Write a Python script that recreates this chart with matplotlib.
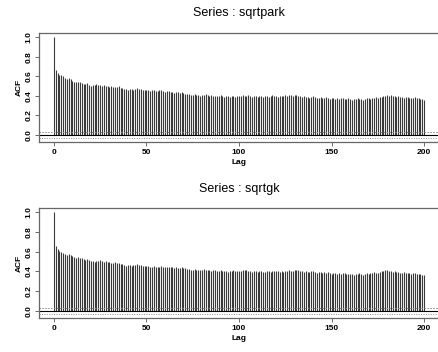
import numpy as np
import matplotlib
matplotlib.use("Agg")
import matplotlib.pyplot as plt

plt.rcParams['font.family'] = ['Liberation Sans', 'DejaVu Sans']

lags = list(range(0, 201))

# ACF values, lag 0..200
acf_sqrtpark = [
    1.00,
    0.66, 0.63, 0.61, 0.61, 0.60, 0.58, 0.57, 0.58, 0.57, 0.55,
    0.54, 0.54, 0.54, 0.54, 0.53, 0.52, 0.52, 0.53, 0.51, 0.50,
    0.51, 0.51, 0.52, 0.51, 0.51, 0.50, 0.51, 0.50, 0.50, 0.49,
    0.50, 0.49, 0.49, 0.49, 0.50, 0.48, 0.48, 0.47, 0.47, 0.46,
    0.47, 0.47, 0.46, 0.47, 0.48, 0.47, 0.47, 0.46, 0.46, 0.46,
    0.46, 0.45, 0.46, 0.46, 0.45, 0.45, 0.46, 0.46, 0.45, 0.44,
    0.45, 0.45, 0.44, 0.44, 0.43, 0.44, 0.44, 0.43, 0.44, 0.43,
    0.42, 0.42, 0.42, 0.41, 0.41, 0.42, 0.41, 0.41, 0.40, 0.41,
    0.41, 0.42, 0.41, 0.40, 0.41, 0.40, 0.40, 0.40, 0.40, 0.41,
    0.40, 0.39, 0.40, 0.40, 0.39, 0.40, 0.40, 0.39, 0.40, 0.40,
    0.40, 0.41, 0.40, 0.40, 0.41, 0.40, 0.39, 0.40, 0.40, 0.39,
    0.40, 0.40, 0.39, 0.40, 0.40, 0.39, 0.40, 0.41, 0.40, 0.40,
    0.39, 0.40, 0.40, 0.40, 0.41, 0.40, 0.41, 0.41, 0.40, 0.41,
    0.41, 0.40, 0.40, 0.39, 0.40, 0.39, 0.39, 0.38, 0.39, 0.40,
    0.39, 0.38, 0.38, 0.39, 0.38, 0.38, 0.39, 0.38, 0.37, 0.38,
    0.38, 0.37, 0.38, 0.37, 0.38, 0.38, 0.37, 0.37, 0.38, 0.37,
    0.36, 0.37, 0.37, 0.38, 0.37, 0.37, 0.36, 0.37, 0.38, 0.38,
    0.37, 0.38, 0.38, 0.39, 0.38, 0.39, 0.39, 0.40, 0.40, 0.41,
    0.40, 0.41, 0.40, 0.40, 0.39, 0.40, 0.39, 0.39, 0.38, 0.39,
    0.39, 0.38, 0.38, 0.38, 0.39, 0.38, 0.38, 0.37, 0.37, 0.36,
]

acf_sqrtgk = [
    1.00,
    0.66, 0.63, 0.61, 0.60, 0.59, 0.58, 0.57, 0.58, 0.57, 0.56,
    0.55, 0.54, 0.55, 0.54, 0.54, 0.53, 0.52, 0.53, 0.52, 0.51,
    0.51, 0.50, 0.51, 0.51, 0.52, 0.51, 0.50, 0.51, 0.50, 0.50,
    0.49, 0.49, 0.50, 0.49, 0.49, 0.48, 0.48, 0.47, 0.46, 0.47,
    0.47, 0.46, 0.47, 0.47, 0.48, 0.47, 0.47, 0.46, 0.46, 0.46,
    0.46, 0.45, 0.45, 0.46, 0.45, 0.45, 0.45, 0.46, 0.44, 0.44,
    0.45, 0.44, 0.44, 0.44, 0.43, 0.44, 0.43, 0.43, 0.44, 0.43,
    0.43, 0.42, 0.42, 0.41, 0.41, 0.42, 0.41, 0.41, 0.41, 0.41,
    0.42, 0.41, 0.41, 0.41, 0.40, 0.41, 0.41, 0.40, 0.40, 0.41,
    0.40, 0.40, 0.40, 0.39, 0.40, 0.40, 0.41, 0.40, 0.40, 0.40,
    0.40, 0.41, 0.41, 0.41, 0.40, 0.40, 0.39, 0.40, 0.40, 0.39,
    0.40, 0.40, 0.39, 0.39, 0.40, 0.40, 0.39, 0.40, 0.40, 0.40,
    0.40, 0.39, 0.40, 0.39, 0.40, 0.40, 0.41, 0.40, 0.40, 0.41,
    0.41, 0.41, 0.40, 0.40, 0.39, 0.40, 0.39, 0.39, 0.40, 0.40,
    0.39, 0.38, 0.39, 0.39, 0.38, 0.39, 0.38, 0.39, 0.38, 0.37,
    0.38, 0.38, 0.37, 0.38, 0.37, 0.38, 0.38, 0.37, 0.37, 0.37,
    0.37, 0.36, 0.37, 0.37, 0.38, 0.37, 0.36, 0.37, 0.38, 0.37,
    0.38, 0.38, 0.39, 0.38, 0.38, 0.39, 0.40, 0.40, 0.41, 0.41,
    0.40, 0.40, 0.39, 0.40, 0.39, 0.39, 0.38, 0.38, 0.39, 0.38,
    0.38, 0.38, 0.37, 0.38, 0.38, 0.37, 0.37, 0.37, 0.36, 0.36,
]

titles = ["Series : sqrtpark", "Series : sqrtgk"]
conf_limit = 0.028
x_ticks = [0, 50, 100, 150, 200]
y_ticks = [0.0, 0.2, 0.4, 0.6, 0.8, 1.0]

fig = plt.figure(figsize=(4.39, 3.52), dpi=100)

# axes rectangles in figure fractions (left, bottom, width, height)
rects = [[0.089, 0.597, 0.911, 0.309], [0.089, 0.097, 0.911, 0.312]]
title_y = [0.964, 0.463]

for rect, ty, title, vals in zip(rects, title_y, titles, [acf_sqrtpark, acf_sqrtgk]):
    ax = fig.add_axes(rect)
    ax.vlines(lags, 0, vals, colors='#3a3a3a', linewidth=0.8)
    ax.axhline(0, color='black', linewidth=0.8)
    ax.axhline(conf_limit, color='#888888', linewidth=0.7, linestyle=(0, (1.5, 1.5)))
    ax.axhline(-conf_limit, color='#888888', linewidth=0.7, linestyle=(0, (1, 1.5)))

    ax.set_xlim(-8, 208)
    ax.set_ylim(-0.069, 1.041)
    ax.set_xticks(x_ticks)
    ax.set_yticks(y_ticks)
    ax.set_xticklabels([str(t) for t in x_ticks], fontsize=6, fontweight='bold')
    ax.set_yticklabels(['%.1f' % t for t in y_ticks], fontsize=6, fontweight='bold',
                       rotation=90, va='center')
    ax.tick_params(axis='both', length=3, width=0.6, color='#555555')
    ax.tick_params(axis='x', pad=2)
    ax.tick_params(axis='y', pad=2)
    for side in ['left', 'top', 'bottom']:
        ax.spines[side].set_color('#666666')
        ax.spines[side].set_linewidth(0.9)
    ax.spines['right'].set_visible(False)

    ax.set_xlabel('Lag', fontsize=6, fontweight='bold', labelpad=2.5)
    ax.set_ylabel('ACF', fontsize=6, fontweight='bold', labelpad=2)
    fig.text(0.545, ty, title, fontsize=9, ha='center', va='center')

fig.savefig('out.png', dpi=100)
